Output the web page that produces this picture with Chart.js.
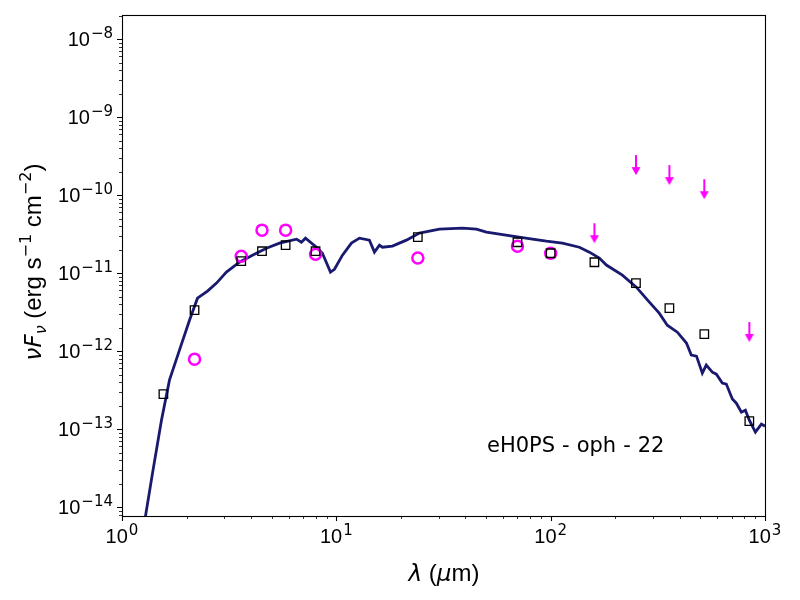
<!DOCTYPE html>
<html>
<head>
<meta charset="utf-8">
<script src="https://cdn.jsdelivr.net/npm/chart.js@4.4.1/dist/chart.umd.min.js"></script>
<style>
  body { margin: 0; background: #fff; }
  #sed { display: block; }
</style>
</head>
<body>
<canvas id="sed" width="800" height="600"></canvas>
<script>
// modelo (linea continua)
var modelWave = [1.256, 1.388, 1.528, 1.665, 1.854, 2.065, 2.25, 2.505, 2.76, 3.07, 3.53, 4.06, 4.72, 5.43, 6.52, 6.87, 7.18,
    8.08, 8.61, 9.39, 9.80, 10.68, 11.76, 12.82, 14.27, 15.06, 15.89, 16.41, 18.27, 21.23, 24.41, 30.27, 38.74, 45.05,
    50.15, 57.66, 66.3, 82.2, 95.5, 113.4, 136.1, 151.6, 168.7, 181.9, 216, 251, 288.7, 321, 350, 390, 430, 453, 479,
    510, 532, 568, 593, 632, 660, 704, 735, 776, 810, 845, 902, 962, 1000];
var modelFlux = [5.1e-15, 2.73e-14, 1.30e-13, 4.25e-13, 1.03e-12, 2.49e-12, 4.78e-12, 5.88e-12, 7.45e-12, 1.03e-11, 1.38e-11,
    1.70e-11, 2.09e-11, 2.43e-11, 2.73e-11, 2.49e-11, 2.81e-11, 2.15e-11, 1.80e-11, 1.03e-11, 1.12e-11, 1.70e-11, 2.43e-11,
    2.81e-11, 2.65e-11, 1.86e-11, 2.28e-11, 2.15e-11, 2.22e-11, 2.65e-11, 3.26e-11, 3.67e-11, 3.78e-11, 3.67e-11, 3.36e-11,
    3.16e-11, 2.98e-11, 2.73e-11, 2.57e-11, 2.43e-11, 2.15e-11, 1.86e-11, 1.56e-11, 1.27e-11, 9.42e-12, 6.62e-12, 4.25e-12,
    3.07e-12, 2.15e-12, 1.75e-12, 1.27e-12, 8.89e-13, 8.63e-13, 5.22e-13, 6.62e-13, 5.38e-13, 5.07e-13, 3.89e-13, 3.78e-13,
    2.43e-13, 2.15e-13, 1.65e-13, 1.75e-13, 1.30e-13, 9.16e-14, 1.16e-13, 1.09e-13];

// flujos del modelo en cada banda (cuadrados)
var bandWave = [1.56, 2.18, 3.6, 4.5, 5.8, 8.0, 24, 70, 100, 160, 250, 358, 521, 845];
var bandFlux = [2.81e-13, 3.36e-12, 1.43e-11, 1.91e-11, 2.28e-11, 1.91e-11, 2.9e-11, 2.49e-11, 1.8e-11, 1.38e-11,
    7.44e-12, 3.56e-12, 1.65e-12, 1.27e-13];

// fotometria observada (circulos)
var obsWave = [2.18, 3.6, 4.5, 5.8, 8.0, 24, 70, 100];
var obsFlux = [7.9e-13, 1.65e-11, 3.56e-11, 3.56e-11, 1.75e-11, 1.56e-11, 2.22e-11, 1.8e-11];

// limites superiores (flechas)
var limWave = [160, 250, 358, 521, 845];
var limFlux = [4.37e-11, 3.26e-10, 2.43e-10, 1.6e-10, 2.36e-12];

var xTicks = [1, 10, 100, 1000];
var xExps = ['0', '1', '2', '3'];
var yTicks = [1e-14, 1e-13, 1e-12, 1e-11, 1e-10, 1e-9, 1e-8];
var yExps = ['\u221214', '\u221213', '\u221212', '\u221211', '\u221210', '\u22129', '\u22128'];

var MAGENTA = '#ff00ff';
var NAVY = '#191970';
var SANS = '"Liberation Sans", Arial, sans-serif';
var MATH = '"DejaVu Sans", sans-serif';

function toPoints(xs, ys) {
    return xs.map(function(v, i) { return { x: v, y: ys[i] }; });
}

// flecha hacia abajo que empieza en el valor del limite
function makeArrow() {
    var c = document.createElement('canvas');
    c.width = 12;
    c.height = 44;
    var g = c.getContext('2d');
    g.strokeStyle = MAGENTA;
    g.fillStyle = MAGENTA;
    g.lineWidth = 2;
    g.beginPath();
    g.moveTo(6, 22);
    g.lineTo(6, 37);
    g.stroke();
    g.beginPath();
    g.moveTo(1.5, 34);
    g.lineTo(10.5, 34);
    g.lineTo(6, 42);
    g.closePath();
    g.fill();
    return c;
}

function drawPow(ctx, exp, x, y, align) {
    ctx.font = '20px ' + SANS;
    var wBase = ctx.measureText('10').width;
    ctx.font = '15px ' + MATH;
    var wExp = ctx.measureText(exp).width;
    var total = wBase + wExp + 1;
    var left = align === 'center' ? x - total / 2 : x - total;
    ctx.textAlign = 'left';
    ctx.textBaseline = 'alphabetic';
    ctx.font = '20px ' + SANS;
    ctx.fillText('10', left, y);
    ctx.font = '15px ' + MATH;
    ctx.fillText(exp, left + wBase + 1, y - 8);
}

// dibuja trozos de texto seguidos, centrados en cx
function drawRun(ctx, parts, cx, by) {
    var w = 0;
    parts.forEach(function(p) { ctx.font = p.f; p.w = ctx.measureText(p.t).width; w += p.w; });
    var x = cx - w / 2;
    ctx.textAlign = 'left';
    parts.forEach(function(p) { ctx.font = p.f; ctx.fillText(p.t, x, by + (p.dy || 0)); x += p.w; });
}

// ejes al estilo matplotlib: marco, marcas, etiquetas
var axisDecor = {
    id: 'axisDecor',
    afterDraw: function(chart) {
        var ctx = chart.ctx;
        var a = chart.chartArea;
        var xs = chart.scales.x;
        var ys = chart.scales.y;
        ctx.save();
        ctx.fillStyle = '#000';
        ctx.strokeStyle = '#000';

        // marcas menores
        ctx.lineWidth = 0.8;
        ctx.beginPath();
        for (var d = 0; d < 3; d++) {
            for (var m = 2; m < 10; m++) {
                var px = Math.round(xs.getPixelForValue(m * Math.pow(10, d))) + 0.5;
                ctx.moveTo(px, a.bottom);
                ctx.lineTo(px, a.bottom + 3);
            }
        }
        for (var e = -15; e < -7; e++) {
            for (var k = 2; k < 10; k++) {
                var v = k * Math.pow(10, e);
                if (v < ys.min || v > ys.max) continue;
                var py = Math.round(ys.getPixelForValue(v)) + 0.5;
                ctx.moveTo(a.left, py);
                ctx.lineTo(a.left - 3, py);
            }
        }
        ctx.stroke();

        // marcas mayores
        ctx.lineWidth = 1.1;
        ctx.beginPath();
        xTicks.forEach(function(t) {
            var px = Math.round(xs.getPixelForValue(t)) + 0.5;
            ctx.moveTo(px, a.bottom);
            ctx.lineTo(px, a.bottom + 5);
        });
        yTicks.forEach(function(t) {
            var py = Math.round(ys.getPixelForValue(t)) + 0.5;
            ctx.moveTo(a.left, py);
            ctx.lineTo(a.left - 5, py);
        });
        ctx.stroke();

        // marco
        ctx.lineWidth = 1.1;
        ctx.strokeRect(a.left + 0.5, a.top + 0.5, a.right - a.left, a.bottom - a.top);

        // etiquetas de las marcas
        xTicks.forEach(function(t, i) {
            drawPow(ctx, xExps[i], xs.getPixelForValue(t), a.bottom + 27, 'center');
        });
        yTicks.forEach(function(t, i) {
            drawPow(ctx, yExps[i], a.left - 9, ys.getPixelForValue(t) + 7, 'right');
        });

        // titulo eje x: lambda (mu m)
        drawRun(ctx, [
            { t: '\u03bb', f: 'oblique 23px ' + MATH },
            { t: ' (', f: '24px ' + SANS },
            { t: '\u03bc', f: 'oblique 23px ' + MATH },
            { t: 'm)', f: '24px ' + SANS }
        ], 444, 581);

        // titulo eje y: nu F_nu (erg s^-1 cm^-2)
        ctx.save();
        ctx.translate(41, 262);
        ctx.rotate(-Math.PI / 2);
        drawRun(ctx, [
            { t: '\u03bdF', f: 'oblique 23px ' + MATH },
            { t: '\u03bd', f: 'oblique 16px ' + MATH, dy: 5 },
            { t: ' (erg s', f: '24px ' + SANS },
            { t: '\u22121', f: '16px ' + MATH, dy: -10 },
            { t: ' cm', f: '24px ' + SANS },
            { t: '\u22122', f: '16px ' + MATH, dy: -10 },
            { t: ')', f: '24px ' + SANS }
        ], 0, 0);
        ctx.restore();

        // nombre de la fuente
        var name = ['eH0PS', '-', 'oph', '-', '22'];
        ctx.font = '21px ' + MATH;
        ctx.textAlign = 'left';
        var nx = 487;
        name.forEach(function(s, i) {
            ctx.fillText(s, nx, 452);
            nx += ctx.measureText(s).width + (i < name.length - 1 ? 7 : 0);
        });
        ctx.restore();
    }
};

var ctx = document.getElementById('sed').getContext('2d');
new Chart(ctx, {
    type: 'scatter',
    data: {
        datasets: [{
            label: 'limites',
            data: toPoints(limWave, limFlux),
            pointStyle: makeArrow(),
            order: 0
        }, {
            label: 'modelo bandas',
            data: toPoints(bandWave, bandFlux),
            pointStyle: 'rect',
            pointRadius: 6,
            borderColor: '#000',
            backgroundColor: 'rgba(255,255,255,0)',
            borderWidth: 1.3,
            order: 1
        }, {
            label: 'observado',
            data: toPoints(obsWave, obsFlux),
            pointStyle: 'circle',
            pointRadius: 5.5,
            borderColor: MAGENTA,
            backgroundColor: 'rgba(255,255,255,0)',
            borderWidth: 2.5,
            order: 2
        }, {
            label: 'modelo',
            type: 'line',
            data: toPoints(modelWave, modelFlux),
            borderColor: NAVY,
            borderWidth: 2.8,
            pointRadius: 0,
            tension: 0,
            fill: false,
            order: 3
        }]
    },
    options: {
        responsive: false,
        animation: false,
        layout: { padding: { left: 122, right: 35, top: 15, bottom: 84 } },
        plugins: {
            legend: { display: false },
            tooltip: { enabled: false }
        },
        scales: {
            x: { type: 'logarithmic', min: 1, max: 1000, display: false },
            y: { type: 'logarithmic', min: 7.7e-15, max: 2.04e-8, display: false }
        }
    },
    plugins: [axisDecor]
});
</script>
</body>
</html>
